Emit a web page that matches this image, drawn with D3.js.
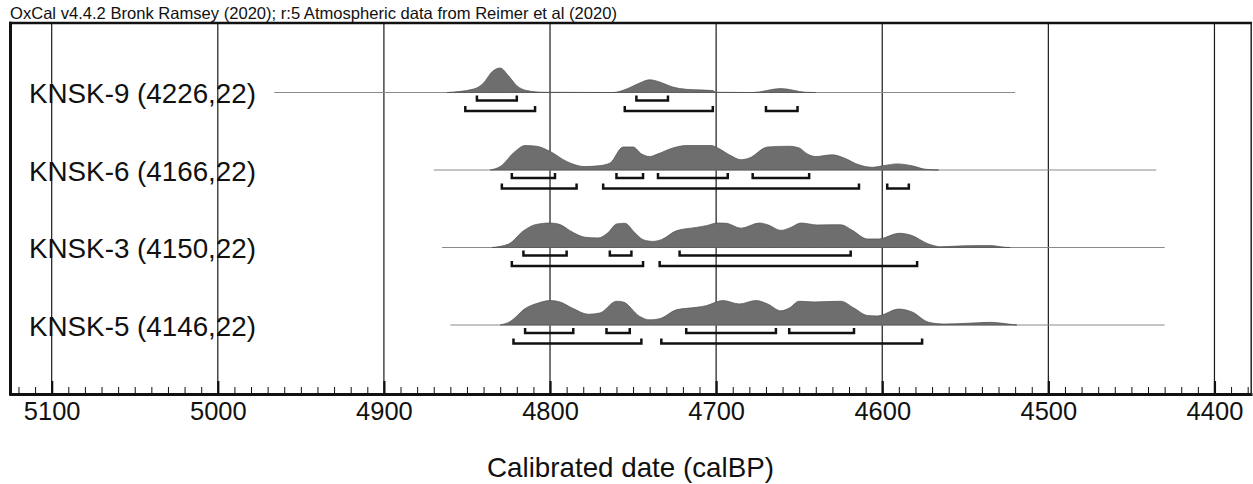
<!DOCTYPE html>
<html>
<head>
<meta charset="utf-8">
<script src="https://cdn.jsdelivr.net/npm/d3@7"></script>
<style>
    body { margin: 0; background: #fff; }
    svg { display: block; font-family: "Liberation Sans", Arial, sans-serif; }
</style>
</head>
<body>
<div id="chart"></div>
<script>
// sample labels, top to bottom
const samples = ["KNSK-9 (4226,22)", "KNSK-6 (4166,22)", "KNSK-3 (4150,22)", "KNSK-5 (4146,22)"];

// full range of each likelihood line [from, to] calBP
const spans = [[4966, 4520], [4870, 4435], [4865, 4430], [4860, 4430]];

// probability density, [calBP, % of peak]
const dens9 = [[4862, 0], [4846, 14], [4840, 39], [4835, 84], [4830, 100], [4825, 68], [4820, 28], [4814, 8],
    [4804, 1], [4762, 0], [4754, 14], [4746, 39], [4740, 52], [4734, 43], [4726, 22], [4718, 13], [4702, 8],
    [4700, 1], [4678, 0], [4661, 16], [4646, 1], [4640, 0]];
const dens6 = [[4836, 0], [4830, 14], [4821, 76], [4815, 100], [4808, 97], [4800, 76], [4790, 35], [4779, 14],
    [4771, 17], [4764, 28], [4756, 94], [4750, 94], [4745, 66], [4740, 55], [4735, 66], [4726, 90], [4718, 100],
    [4703, 100], [4699, 90], [4692, 62], [4685, 42], [4680, 49], [4669, 94], [4656, 97], [4650, 90], [4645, 65],
    [4640, 55], [4630, 62], [4623, 49], [4614, 21], [4606, 11], [4599, 18], [4591, 25], [4582, 17], [4574, 3],
    [4566, 0]];
const dens3 = [[4835, 0], [4825, 14], [4816, 68], [4809, 93], [4800, 100], [4795, 96], [4786, 61], [4779, 42],
    [4771, 39], [4765, 61], [4760, 96], [4755, 99], [4749, 61], [4744, 32], [4738, 25], [4733, 32], [4724, 68],
    [4712, 82], [4706, 89], [4699, 100], [4694, 99], [4685, 79], [4674, 100], [4669, 93], [4661, 70], [4655, 82],
    [4649, 100], [4639, 92], [4625, 93], [4618, 70], [4609, 35], [4602, 35], [4590, 58], [4583, 51], [4572, 14],
    [4565, 3], [4551, 7], [4535, 8], [4526, 1], [4523, 0]];
const dens5 = [[4830, 0], [4824, 14], [4815, 67], [4807, 90], [4800, 100], [4794, 94], [4786, 67], [4777, 44],
    [4770, 49], [4760, 97], [4756, 94], [4746, 35], [4740, 21], [4733, 28], [4724, 62], [4712, 72], [4706, 79],
    [4696, 100], [4686, 86], [4676, 100], [4669, 86], [4661, 58], [4656, 69], [4650, 97], [4641, 94], [4625, 97],
    [4617, 69], [4609, 39], [4603, 37], [4590, 65], [4582, 53], [4572, 11], [4563, 4], [4549, 7], [4535, 11],
    [4523, 3], [4519, 0]];

// 68.2% ranges
const r68_9 = [[4844, 4820], [4748, 4729]];
const r68_6 = [[4823, 4797], [4760, 4744], [4735, 4693], [4678, 4644]];
const r68_3 = [[4816, 4790], [4764, 4751], [4722, 4619]];
const r68_5 = [[4815, 4786], [4766, 4752], [4718, 4664], [4656, 4617]];

// 95.4% ranges
const r95_9 = [[4851, 4809], [4755, 4702], [4670, 4651]];
const r95_6 = [[4829, 4784], [4768, 4614], [4597, 4584]];
const r95_3 = [[4823, 4744], [4734, 4579]];
const r95_5 = [[4822, 4745], [4733, 4576]];

const densities = [dens9, dens6, dens3, dens5];
const ranges68 = [r68_9, r68_6, r68_3, r68_5];
const ranges95 = [r95_9, r95_6, r95_3, r95_5];

const majorTicks = [5100, 5000, 4900, 4800, 4700, 4600, 4500, 4400];
const minorTicks = d3.range(5120, 4370, -10);

const title = "OxCal v4.4.2 Bronk Ramsey (2020); r:5 Atmospheric data from Reimer et al (2020)";
const xTitle = "Calibrated date (calBP)";

function drawChart() {
    let width = 1253,
        height = 484;
    let frame = { top: 23, bottom: 394, left: 9, right: 1252 };

    let svg = d3.select("#chart")
        .append("svg")
        .attr("width", width)
        .attr("height", height);

    let x = d3.scaleLinear()
        .domain([5125.7, 4377.4])
        .range([frame.left, frame.right]);

    let y = d3.scalePoint()
        .domain(samples)
        .range([92.5, 325]);

    let h = d3.scaleLinear()
        .domain([0, 100])
        .range([0, 24.5]);

    svg.append("text")
        .attr("x", 10)
        .attr("y", 18.5)
        .attr("font-size", 16.5)
        .attr("textLength", 607)
        .attr("lengthAdjust", "spacingAndGlyphs")
        .attr("fill", "#111")
        .text(title);

    // vertical grid
    svg.append("g")
        .selectAll("line")
        .data(majorTicks)
        .enter()
        .append("line")
        .attr("x1", d => x(d))
        .attr("x2", d => x(d))
        .attr("y1", frame.top)
        .attr("y2", frame.bottom)
        .style("stroke", "#1a1a1a")
        .style("stroke-width", 1.2);

    // axis: minor ticks, then major ticks with labels
    let minorAxis = svg.append("g")
        .attr("transform", `translate(0, ${frame.bottom})`)
        .call(d3.axisBottom(x).tickValues(minorTicks).tickSize(-7).tickSizeOuter(0).tickFormat(""));
    minorAxis.select(".domain").remove();
    minorAxis.selectAll(".tick line").style("stroke", "#111").style("stroke-width", 1);

    let majorAxis = svg.append("g")
        .attr("transform", `translate(0, ${frame.bottom})`)
        .call(d3.axisBottom(x).tickValues(majorTicks).tickSize(-13).tickSizeOuter(0)
            .tickPadding(8).tickFormat(d3.format("d")));
    majorAxis.select(".domain").style("stroke", "#111").style("stroke-width", 3);
    majorAxis.selectAll(".tick line").style("stroke", "#111").style("stroke-width", 2.2);
    majorAxis.selectAll(".tick text")
        .attr("font-size", 25.5)
        .attr("font-family", "'Liberation Sans', Arial, sans-serif")
        .attr("textLength", 56.7)
        .attr("lengthAdjust", "spacingAndGlyphs")
        .attr("fill", "#111");

    // frame
    svg.append("line")
        .attr("x1", frame.left).attr("x2", frame.right)
        .attr("y1", frame.top).attr("y2", frame.top)
        .style("stroke", "#111").style("stroke-width", 2.5);
    svg.append("line")
        .attr("x1", frame.left + 1.5).attr("x2", frame.left + 1.5)
        .attr("y1", frame.top - 1.2).attr("y2", frame.bottom + 1.5)
        .style("stroke", "#111").style("stroke-width", 3);
    svg.append("line")
        .attr("x1", frame.right - 0.8).attr("x2", frame.right - 0.8)
        .attr("y1", frame.top).attr("y2", frame.bottom)
        .style("stroke", "#222").style("stroke-width", 1.5);

    let rows = svg.append("g")
        .selectAll("g")
        .data(samples)
        .enter()
        .append("g");

    // likelihood line
    rows.append("line")
        .attr("x1", (d, i) => x(spans[i][0]))
        .attr("x2", (d, i) => x(spans[i][1]))
        .attr("y1", d => y(d))
        .attr("y2", d => y(d))
        .style("stroke", "#8a8a8a")
        .style("stroke-width", 1);

    rows.append("path")
        .attr("d", (d, i) => d3.area()
            .x(p => x(p[0]))
            .y0(y(d))
            .y1(p => y(d) - h(p[1]))
            .curve(d3.curveMonotoneX)(densities[i]))
        .style("fill", "#6e6e6e")
        .style("stroke", "#505050")
        .style("stroke-width", 0.7);

    function bracket(r, yy) {
        return `M${x(r[0])},${yy - 5}V${yy}H${x(r[1])}V${yy - 5}`;
    }

    rows.each(function(d, i) {
        let g = d3.select(this);
        g.selectAll("path.r68")
            .data(ranges68[i])
            .enter()
            .append("path")
            .attr("class", "r68")
            .attr("d", r => bracket(r, y(d) + 8))
            .style("fill", "none")
            .style("stroke", "#111")
            .style("stroke-width", 2.5);
        g.selectAll("path.r95")
            .data(ranges95[i])
            .enter()
            .append("path")
            .attr("class", "r95")
            .attr("d", r => bracket(r, y(d) + 18.5))
            .style("fill", "none")
            .style("stroke", "#111")
            .style("stroke-width", 2.5);
    });

    rows.append("text")
        .attr("x", 29)
        .attr("y", d => y(d) + 10.5)
        .attr("font-size", 28)
        .attr("textLength", 227)
        .attr("lengthAdjust", "spacingAndGlyphs")
        .attr("fill", "#111")
        .text(d => d);

    svg.append("text")
        .attr("x", (frame.left + frame.right) / 2)
        .attr("y", 476.7)
        .attr("text-anchor", "middle")
        .attr("font-size", 28)
        .attr("textLength", 287)
        .attr("lengthAdjust", "spacingAndGlyphs")
        .attr("fill", "#111")
        .text(xTitle);
}

drawChart();
</script>
</body>
</html>
